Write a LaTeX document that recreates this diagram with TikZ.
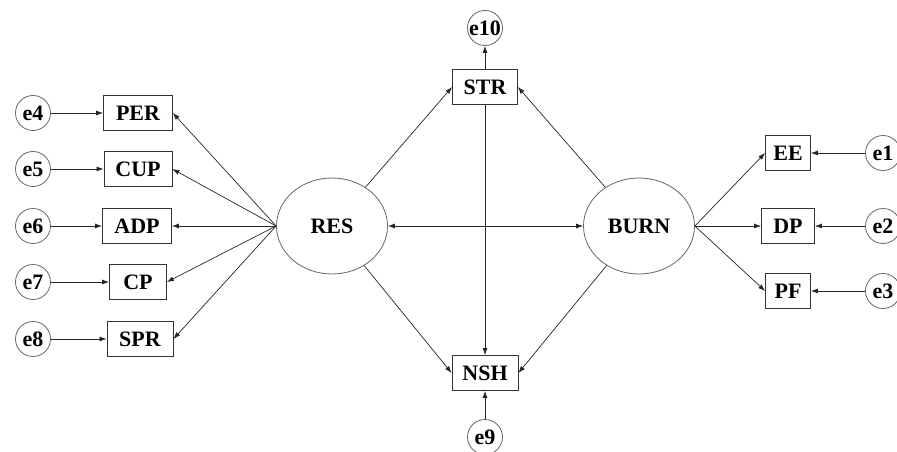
\documentclass[tikz,border=0pt]{standalone}
\usepackage{fontspec}
\setmainfont{Liberation Serif}
\usetikzlibrary{arrows.meta,shapes.geometric}

\begin{document}
\begin{tikzpicture}
  [x=1pt,y=-1pt,>={Latex[length=7pt,width=5pt]},
   every node/.style={font=\fontsize{22}{24}\selectfont\bfseries,draw=black!80,line width=.8pt},
   obs/.style={rectangle,minimum height=35pt,inner sep=0pt},
   err/.style={circle,minimum size=35pt,inner sep=0pt,draw=black!60,font=\fontsize{22}{24}\selectfont\bfseries},
   lat/.style={ellipse,minimum width=111pt,minimum height=96pt,draw=black!60},
   link/.style={->,draw=black!85,line width=.7pt}]
  \useasboundingbox (0,0) rectangle (897,452);

  \node[lat] (res) at (332,226) {RES};
  \node[lat] (burn) at (639,226) {BURN};
  \node[obs,minimum width=65pt] (str) at (485,87) {STR};
  \node[obs,minimum width=66pt] (nsh) at (485,373) {NSH};
  \node[err] (e10) at (485,28) {e10};
  \node[err] (e9) at (485,437) {e9};

  \node[obs,minimum width=69pt] (per) at (138,113) {PER};
  \node[obs,minimum width=68pt] (cup) at (138,169) {CUP};
  \node[obs,minimum width=69pt] (adp) at (137,226) {ADP};
  \node[obs,minimum width=57pt] (cp) at (138,282) {CP};
  \node[obs,minimum width=66pt] (spr) at (140,339) {SPR};
  \node[err] (e4) at (33,113) {e4};
  \node[err] (e5) at (33,169) {e5};
  \node[err] (e6) at (33,226) {e6};
  \node[err] (e7) at (33,282) {e7};
  \node[err] (e8) at (33,339) {e8};

  \node[obs,minimum width=45pt] (ee) at (788,153) {EE};
  \node[obs,minimum width=53pt] (dp) at (788,226) {DP};
  \node[obs,minimum width=45pt] (pf) at (788,291) {PF};
  \node[err] (e1) at (883,153) {e1};
  \node[err] (e2) at (883,226) {e2};
  \node[err] (e3) at (883,291) {e3};

  \foreach \to in {per,cup,adp,cp,spr}
    \draw[link] (res.west) -- (\to.east);
  \foreach \from/\to in {e4/per,e5/cup,e6/adp,e7/cp,e8/spr}
    \draw[link] (\from) -- (\to);
  \foreach \to in {ee,dp,pf}
    \draw[link] (burn.east) -- (\to.west);
  \foreach \from/\to in {e1/ee,e2/dp,e3/pf}
    \draw[link] (\from) -- (\to);

  \draw[link] (res) -- (str.west);
  \draw[link] (burn) -- (str.east);
  \draw[link] (res) -- (nsh.west);
  \draw[link] (burn) -- (nsh.east);
  \draw[link] (str) -- (nsh);
  \draw[link] (str) -- (e10);
  \draw[link] (e9) -- (nsh);
  \draw[link,<->] (res) -- (burn);

\end{tikzpicture}
\end{document}
